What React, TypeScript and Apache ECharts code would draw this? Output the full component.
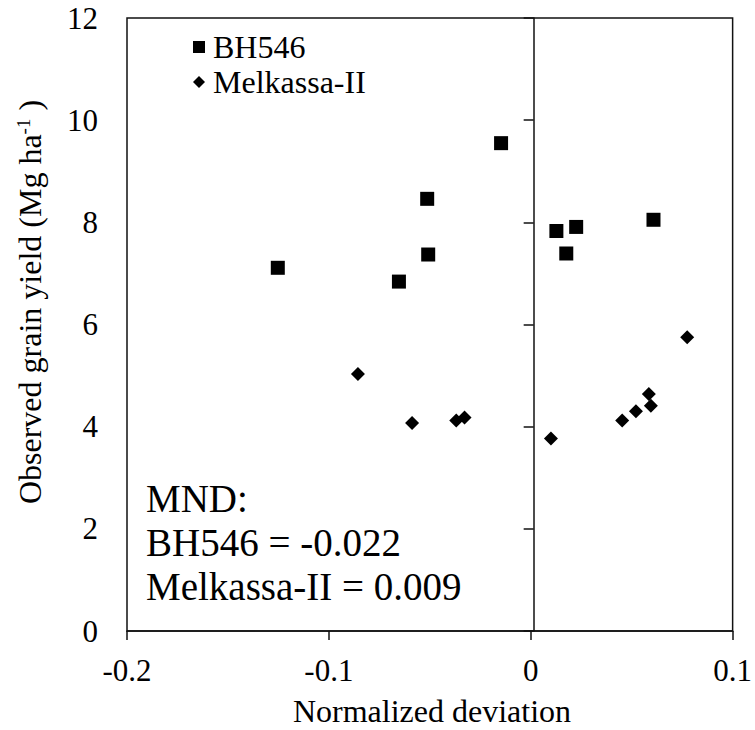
import React, { useEffect, useRef } from "react";
import * as echarts from "echarts";

const bh546: [number, number][] = [
  [-0.1253, 7.11],
  [-0.0653, 6.84],
  [-0.0513, 8.46],
  [-0.0508, 7.37],
  [-0.0147, 9.55],
  [0.0127, 7.83],
  [0.0176, 7.39],
  [0.0225, 7.91],
  [0.0608, 8.05],
];

const melkassa: [number, number][] = [
  [-0.0856, 5.03],
  [-0.0588, 4.07],
  [-0.0369, 4.12],
  [-0.0328, 4.18],
  [0.01, 3.77],
  [0.0453, 4.12],
  [0.0521, 4.3],
  [0.0585, 4.64],
  [0.0595, 4.41],
  [0.0775, 5.75],
];

const seriesNames = ["BH546", "Melkassa-II"];
const annotationLines = ["MND:", "BH546 = -0.022", "Melkassa-II = 0.009"];
const xTitle = "Normalized deviation";
const yTitle = "Observed grain yield (Mg ha{sup|-1} )";

const FONT = "Liberation Serif, Times New Roman, serif";

export default function App() {
  const ref = useRef<HTMLDivElement>(null);
  useEffect(() => {
    document.body.style.margin = "0";
    const chart = echarts.init(ref.current!, null, { renderer: "svg" });
    const gridLeft = 127;
    const gridRight = 18;
    const plotW = 755 - gridLeft - gridRight;
    const zeroOffset = -plotW * (0 - -0.2) / (0.1 - -0.2);
    chart.setOption({
      animation: false,
      backgroundColor: "#fff",
      textStyle: { fontFamily: FONT },
      grid: {
        left: gridLeft,
        right: gridRight,
        top: 18,
        bottom: 99,
        show: true,
        borderColor: "#111",
        borderWidth: 1.5,
        backgroundColor: "transparent",
      },
      legend: {
        orient: "vertical",
        left: 188,
        top: 26,
        itemWidth: 12,
        itemHeight: 12,
        itemGap: 3,
        itemStyle: { opacity: 1 },
        textStyle: { fontSize: 32, color: "#000", fontFamily: FONT, padding: [0, 0, 0, 3] },
        data: [
          { name: seriesNames[0], icon: "rect" },
          { name: seriesNames[1], icon: "diamond" },
        ],
      },
      xAxis: {
        type: "value",
        min: -0.2,
        max: 0.1,
        interval: 0.1,
        axisLine: { show: true, onZero: false, lineStyle: { color: "#111", width: 1.5 } },
        axisTick: { show: true, length: 9, lineStyle: { color: "#111", width: 1.5 } },
        axisLabel: { fontSize: 31, color: "#000", margin: 24, fontFamily: FONT },
        splitLine: { show: false },
      },
      yAxis: [
        {
          type: "value",
          min: 0,
          max: 12,
          interval: 2,
          axisLine: { show: false, onZero: false },
          axisTick: { show: false },
          axisLabel: { fontSize: 31, color: "#000", margin: 29, fontFamily: FONT },
          splitLine: { show: false },
        },
        {
          type: "value",
          min: 0,
          max: 12,
          interval: 2,
          position: "left",
          offset: zeroOffset,
          axisLine: { show: true, onZero: false, lineStyle: { color: "#111", width: 1.5 } },
          axisTick: { show: true, length: 10, lineStyle: { color: "#111", width: 1.5 } },
          axisLabel: { show: false },
          splitLine: { show: false },
        },
      ],
      series: [
        {
          name: seriesNames[0],
          type: "scatter",
          symbol: "rect",
          symbolSize: 14,
          itemStyle: { color: "#000", opacity: 1 },
          data: bh546,
        },
        {
          name: seriesNames[1],
          type: "scatter",
          symbol: "diamond",
          symbolSize: 14,
          itemStyle: { color: "#000", opacity: 1 },
          data: melkassa,
        },
      ],
      graphic: [
        ...annotationLines.map((t, i) => ({
          type: "text",
          left: 146,
          top: 479 + i * 44,
          style: { text: t, fontSize: 39, fill: "#000", fontFamily: FONT },
        })),
        {
          type: "text",
          x: 432,
          y: 711,
          style: {
            text: xTitle,
            fontSize: 32,
            fill: "#000",
            fontFamily: FONT,
            align: "center",
            verticalAlign: "middle",
          },
        },
        {
          type: "text",
          x: 30,
          y: 302,
          rotation: Math.PI / 2,
          style: {
            text: yTitle,
            fontSize: 32,
            fill: "#000",
            fontFamily: FONT,
            align: "center",
            verticalAlign: "middle",
            rich: {
              sup: { fontSize: 19, fontFamily: FONT, fill: "#000", verticalAlign: "top" },
            },
          },
        },
      ],
    });
    return () => chart.dispose();
  }, []);
  return (
    <div
      ref={ref}
      style={{ position: "fixed", left: 0, top: 0, width: 755, height: 730 }}
    />
  );
}
